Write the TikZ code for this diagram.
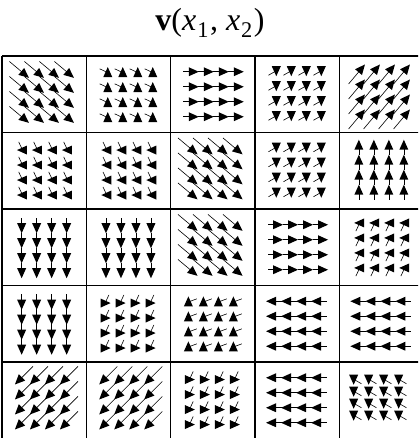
\documentclass[tikz,border=0pt]{standalone}
\usepackage{fontspec}
\setmainfont{Liberation Serif}
\usepackage{tikz}
\usetikzlibrary{calc}

% one cell of the field: [row spacing] col, row, shaft angle, shaft length, head angle, offset
\newcommand{\fieldcell}[7][15]{%
  \foreach \i in {0,...,3}{
    \foreach \j in {0,...,3}{
      \coordinate (h) at ({2+84.3*(#2-0.5)+15*(\i-1.5)+#7*cos(#4)}, {382-76.5*(#3-0.5)-#1*(\j-1.5)+#7*sin(#4)});
      \draw[shaft] (h) -- ++(#4+180:#5);
      \fill[head, shift={(h)}, rotate=#6] (5.5,0) -- (-4.5,4.5) -- (-4.5,-4.5) -- cycle;
    }
  }
}

\begin{document}
\begin{tikzpicture}[
  x=1pt, y=1pt,
  gridline/.style={line width=1.2pt},
  shaft/.style={line width=0.6pt},
  head/.style={fill=black}
]
  \useasboundingbox (0,0) rectangle (418,438);
  \clip (0,0) rectangle (418,438);

  \node[anchor=base, font=\fontsize{32}{32}\selectfont] (title) at (210,407)
    {\textbf{v}(\textit{x}\kern1pt\textsubscript{1}\kern1pt,\ \textit{x}\kern1pt\textsubscript{2}\kern1pt)};

  % grid
  \foreach \k in {0,...,5}{
    \draw[gridline] ({2+84.3*\k},382) -- ({2+84.3*\k},-0.5);
    \draw[gridline] (2,{382-76.5*\k}) -- (423.5,{382-76.5*\k});
  }

  % row 1
  \fieldcell{1}{1}{-40}{20}{-40}{4}
  \fieldcell{2}{1}{-25}{9}{90}{2}
  \fieldcell{3}{1}{0}{10}{0}{3}
  \fieldcell{4}{1}{30}{9}{-90}{2}
  \fieldcell{5}{1}{50}{20}{50}{4}
  % row 2
  \fieldcell{1}{2}{-65}{9}{180}{2}
  \fieldcell{2}{2}{-65}{9}{180}{2}
  \fieldcell{3}{2}{-40}{20}{-40}{4}
  \fieldcell{4}{2}{30}{9}{-90}{2}
  \fieldcell{5}{2}{90}{10}{90}{3}
  % row 3
  \fieldcell{1}{3}{-90}{10}{-90}{3}
  \fieldcell{2}{3}{-90}{10}{-90}{3}
  \fieldcell{3}{3}{-40}{20}{-40}{4}
  \fieldcell{4}{3}{0}{10}{0}{3}
  \fieldcell{5}{3}{65}{9}{180}{2}
  % row 4
  \fieldcell{1}{4}{-90}{10}{-90}{3}
  \fieldcell{2}{4}{245}{9}{0}{2}
  \fieldcell{3}{4}{200}{9}{90}{2}
  \fieldcell{4}{4}{180}{10}{180}{3}
  \fieldcell{5}{4}{180}{10}{180}{3}
  % row 5
  \fieldcell{1}{5}{225}{20}{225}{4}
  \fieldcell{2}{5}{225}{20}{225}{4}
  \fieldcell{3}{5}{245}{9}{0}{2}
  \fieldcell{4}{5}{180}{10}{180}{3}
  \fieldcell[12]{5}{5}{150}{9}{-90}{6}
\end{tikzpicture}
\end{document}
